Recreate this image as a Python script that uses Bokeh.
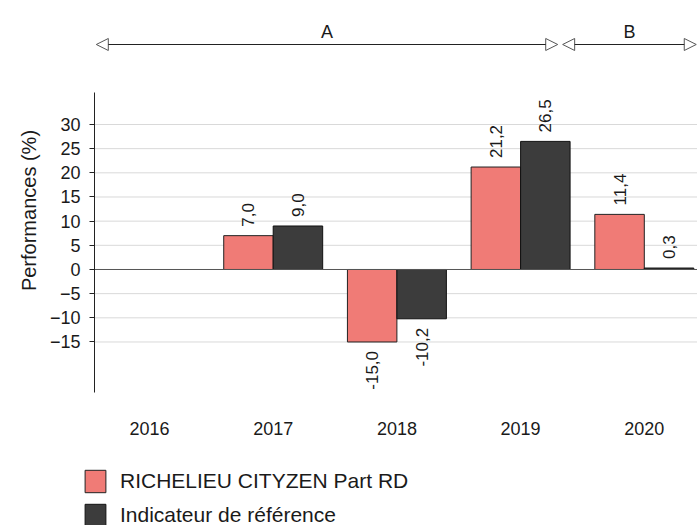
import math
from bokeh.plotting import figure
from bokeh.models import (ColumnDataSource, FixedTicker, Arrow, NormalHead,
                          Legend, LegendItem, LabelSet, Label)
from bokeh.transform import dodge
from bokeh.core.properties import value
from bokeh.embed import file_html
from bokeh.resources import INLINE

# ---- data ----
years = ["2016", "2017", "2018", "2019", "2020"]
fund = [None, 7.0, -15.0, 21.2, 11.4]
bench = [None, 9.0, -10.2, 26.5, 0.3]
fund_name = "RICHELIEU CITYZEN Part RD"
bench_name = "Indicateur de référence"
y_ticks = [-15, -10, -5, 0, 5, 10, 15, 20, 25, 30]
y_title = "Performances (%)"
periods = ["A", "B"]
period_first = [0, 4]
period_last = [3, 4]

FONT = "Liberation Sans"
RED = "#F07B76"
DARK = "#3C3C3C"
TXT = "#1a1a1a"

X0, X1 = -1.2045, 4.430
Y0, Y1 = -52.97, 52.55
AXIS_X = -0.4446
AXIS_BOTTOM, AXIS_TOP = -25.45, 36.6

p = figure(width=697, height=525, x_range=(X0, X1), y_range=(Y0, Y1),
           output_backend="svg", toolbar_location=None,
           min_border_left=0, min_border_right=0, min_border_top=15,
           min_border_bottom=0)
p.outline_line_color = None
p.background_fill_color = "white"
p.border_fill_color = "white"
p.grid.visible = False

# x axis (category labels under the value axis)
p.xaxis.fixed_location = AXIS_BOTTOM
p.xaxis.ticker = FixedTicker(ticks=list(range(len(years))))
p.xaxis.major_label_overrides = {i: y for i, y in enumerate(years)}
p.xaxis.axis_line_color = None
p.xaxis.major_tick_line_color = None
p.xaxis.minor_tick_line_color = None
p.xaxis.major_label_standoff = 24
p.xaxis.major_label_text_font = FONT
p.xaxis.major_label_text_font_size = "18px"
p.xaxis.major_label_text_color = TXT

# y axis
p.yaxis.fixed_location = AXIS_X
p.yaxis.ticker = FixedTicker(ticks=y_ticks)
p.yaxis.bounds = (AXIS_BOTTOM, AXIS_TOP)
p.yaxis.major_tick_out = 5
p.yaxis.major_tick_in = 0
p.yaxis.minor_tick_line_color = None
p.yaxis.axis_line_color = "#222222"
p.yaxis.major_tick_line_color = "#222222"
p.yaxis.major_label_standoff = 9
p.yaxis.major_label_text_font = FONT
p.yaxis.major_label_text_font_size = "18px"
p.yaxis.major_label_text_color = TXT

# horizontal grid lines, starting at the value axis
p.segment(x0=[AXIS_X] * len(y_ticks), x1=[X1] * len(y_ticks), y0=y_ticks, y1=y_ticks,
          line_color="#d9d9d9", line_width=1, level="underlay")

# axis title
p.add_layout(Label(x=-0.978, y=12.2, text=y_title, angle=math.pi / 2,
                   text_align="center", text_baseline="middle",
                   text_font=FONT, text_font_size="20px", text_color=TXT))

# bars
xi = [i for i, v in enumerate(fund) if v is not None]
src = ColumnDataSource(dict(x=xi,
                            fund=[fund[i] for i in xi],
                            bench=[bench[i] for i in xi]))
r1 = p.vbar(x=dodge("x", -0.2), top="fund", bottom=0, width=0.4, source=src,
            fill_color=RED, line_color="#222222", line_width=1)
r2 = p.vbar(x=dodge("x", 0.2), top="bench", bottom=0, width=0.4, source=src,
            fill_color=DARK, line_color="#111111", line_width=1)

# zero line
p.segment(x0=[AXIS_X], x1=[X1], y0=[0], y1=[0], line_color="#555555", line_width=1)

# value labels
def fmt(v):
    return f"{v:.1f}".replace(".", ",")

pos = dict(x=[], y=[], t=[])
neg = dict(x=[], y=[], t=[])
for series, off in ((fund, -0.2), (bench, 0.2)):
    for i, v in enumerate(series):
        if v is None:
            continue
        d = pos if v >= 0 else neg
        d["x"].append(i + off)
        d["y"].append(v)
        d["t"].append(fmt(v))

common = dict(x="x", y="y", text="t", angle=math.pi / 2, text_baseline="middle",
              text_font=value(FONT), text_font_size="17px", text_color=TXT)
p.add_layout(LabelSet(source=ColumnDataSource(pos), text_align="left",
                      y_offset=9, **common))
p.add_layout(LabelSet(source=ColumnDataSource(neg), text_align="right",
                      y_offset=-9, **common))

# period arrows
ARROW_Y = 46.55
LABEL_Y = 49.2
starts, ends = [], []
for k, (f, l) in enumerate(zip(period_first, period_last)):
    s = f - 0.43 if k == 0 else f - 0.66
    e = l + 0.30 if k < len(periods) - 1 else min(l + 0.42, X1 - 0.01)
    starts.append(s)
    ends.append(e)
    p.add_layout(Arrow(x_start=s, y_start=ARROW_Y, x_end=e, y_end=ARROW_Y,
                       line_color="#222222", line_width=1.2,
                       start=NormalHead(size=12, fill_color="white",
                                        line_color="#555555", line_width=1),
                       end=NormalHead(size=12, fill_color="white",
                                      line_color="#555555", line_width=1)))
p.text(x=[(s + e) / 2 for s, e in zip(starts, ends)], y=[LABEL_Y] * len(periods),
       text=periods, text_align="center", text_baseline="middle",
       text_font=value(FONT), text_font_size="18px", text_color=TXT)

# legend
legend = Legend(items=[LegendItem(label=fund_name, renderers=[r1]),
                       LegendItem(label=bench_name, renderers=[r2])],
                location=(82, -4), orientation="vertical",
                glyph_width=26, glyph_height=28, label_height=28, spacing=6,
                padding=0, margin=0, label_standoff=12,
                border_line_color=None, background_fill_alpha=0,
                label_text_font=FONT, label_text_font_size="21px",
                label_text_color=TXT)
p.add_layout(legend, "center")

open("out.html", "w").write(file_html(p, INLINE))
